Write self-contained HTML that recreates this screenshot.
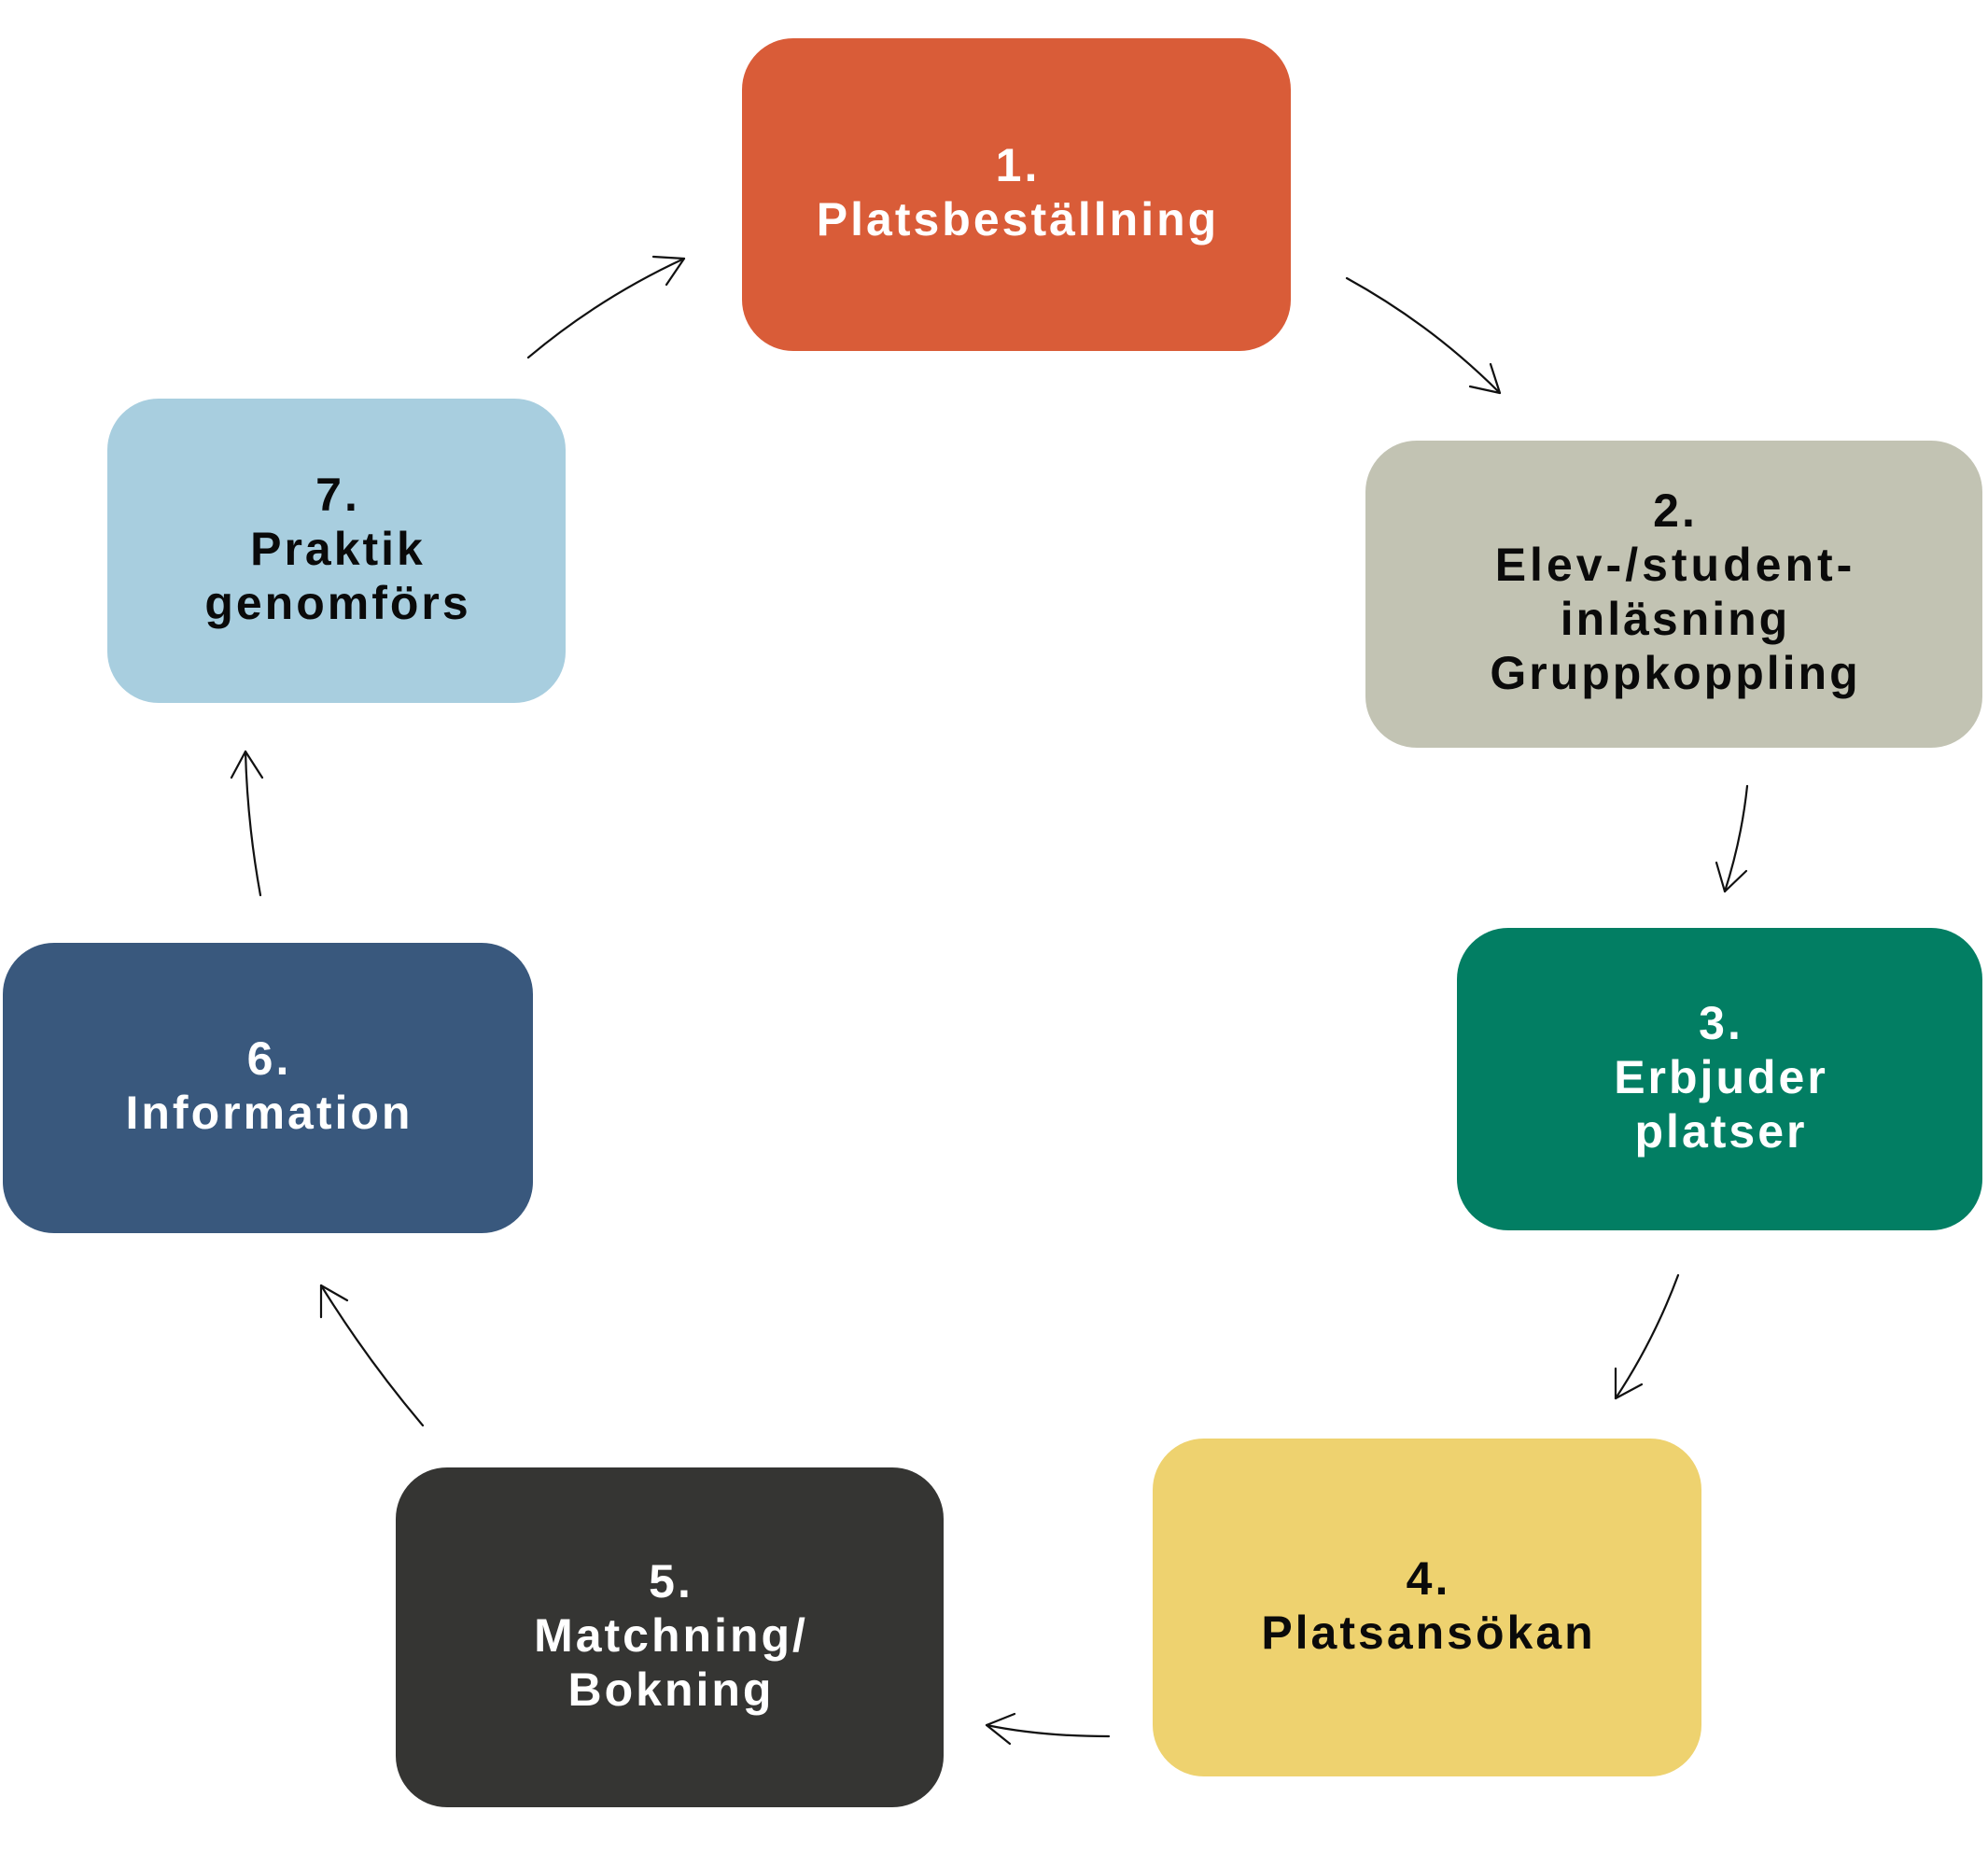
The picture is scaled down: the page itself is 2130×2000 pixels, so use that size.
<!DOCTYPE html>
<html>
<head>
<meta charset="utf-8">
<style>
  html, body { margin:0; padding:0; background:#ffffff; }
  body { width:2130px; height:2000px; position:relative; overflow:hidden; }
  .box {
    position:absolute;
    border-radius:55px;
    display:flex;
    align-items:center;
    justify-content:center;
    text-align:center;
    font-family:"Liberation Sans", "DejaVu Sans", sans-serif;
    font-weight:bold;
    font-size:50px;
    line-height:58px;
    letter-spacing:3px;
    padding-left:3px;
    padding-bottom:5px;
    box-sizing:border-box;
  }
  .box > div { display:block; }
  .w { color:#ffffff; }
  .k { color:#0a0a0a; }
  svg { position:absolute; left:0; top:0; }
</style>
</head>
<body>

<div class="box w" style="left:795px; top:41px; width:588px; height:335px; background:#D95C38;"><div>1.<br>Platsbeställning</div></div>

<div class="box k" style="left:1463px; top:472px; width:661px; height:329px; background:#C2C3B3;"><div>2.<br><span style="letter-spacing:4px">Elev-/student-</span><br>inläsning<br>Gruppkoppling</div></div>

<div class="box w" style="left:1561px; top:994px; width:563px; height:324px; background:#027E63;"><div>3.<br>Erbjuder<br>platser</div></div>

<div class="box k" style="left:1235px; top:1541px; width:588px; height:362px; background:#EED26F;"><div>4.<br>Platsansökan</div></div>

<div class="box w" style="left:424px; top:1572px; width:587px; height:364px; background:#353533;"><div>5.<br>Matchning/<br>Bokning</div></div>

<div class="box w" style="left:3px; top:1010px; width:568px; height:311px; background:#39587D;"><div>6.<br>Information</div></div>

<div class="box k" style="left:115px; top:427px; width:491px; height:326px; background:#A8CEDF;"><div>7.<br>Praktik<br>genomförs</div></div>

<svg width="2130" height="2000" viewBox="0 0 2130 2000" xmlns="http://www.w3.org/2000/svg">
  <g fill="none" stroke="#111111" stroke-width="2.2" stroke-linecap="round" stroke-linejoin="round">
    <!-- 7 -> 1 -->
    <path d="M566,383 Q642,319 733,277"/>
    <path d="M700,275 L733,277 L714,305"/>
    <!-- 1 -> 2 -->
    <path d="M1443,298 Q1534,348 1607,421"/>
    <path d="M1575,414 L1607,421 L1597,390"/>
    <!-- 2 -> 3 -->
    <path d="M1872,842 Q1866,899 1848,955"/>
    <path d="M1839,924 L1848,955 L1871,933"/>
    <!-- 3 -> 4 -->
    <path d="M1798,1366 Q1772,1436 1731,1498"/>
    <path d="M1731,1466 L1731,1498 L1759,1483"/>
    <!-- 4 -> 5 -->
    <path d="M1188,1860 Q1115,1860 1057,1848"/>
    <path d="M1087,1836 L1057,1848 L1082,1868"/>
    <!-- 5 -> 6 -->
    <path d="M453,1527 Q393,1456 344,1377"/>
    <path d="M344,1411 L344,1377 L372,1393"/>
    <!-- 6 -> 7 -->
    <path d="M279,959 Q265,882 263,805"/>
    <path d="M248,833 L263,805 L281,833"/>
  </g>
</svg>

</body>
</html>
